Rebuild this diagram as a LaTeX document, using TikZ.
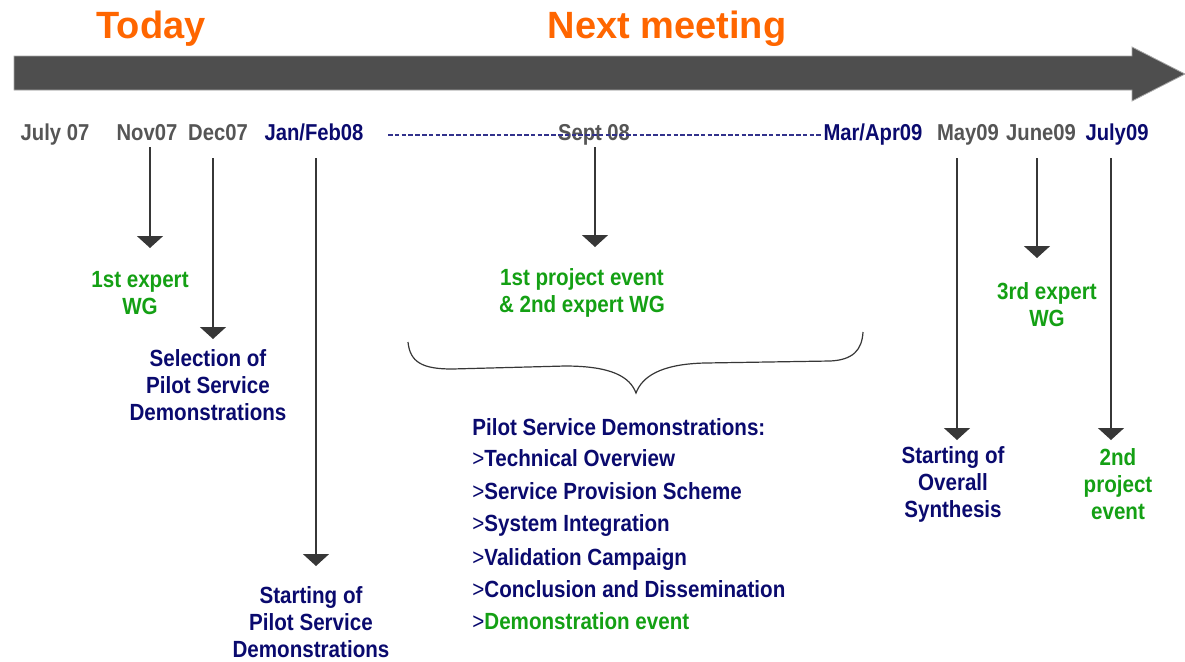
\documentclass[tikz,border=0pt]{standalone}
\usepackage{fontspec}
\setmainfont{Liberation Sans}[FakeStretch=0.88]
\newfontfamily\titlefont{Liberation Sans}
\usetikzlibrary{arrows.meta}
\definecolor{navy}{RGB}{10,10,110}
\definecolor{dashnavy}{RGB}{50,50,140}
\definecolor{greytxt}{RGB}{85,85,85}
\definecolor{greentxt}{RGB}{20,160,20}
\definecolor{orng}{RGB}{255,102,0}
\definecolor{arrowgrey}{RGB}{78,78,78}
\definecolor{linegrey}{RGB}{55,55,55}
\tikzset{
  datelab/.style={anchor=base,inner sep=0pt,font=\fontsize{11.5}{13.5}\selectfont\bfseries},
  lab/.style={align=center,inner sep=0pt,font=\fontsize{11.7}{13.5}\selectfont\bfseries},
  listlab/.style={anchor=base west,inner sep=0pt,font=\fontsize{11.7}{13.5}\selectfont\bfseries,text=navy},
  title/.style={inner sep=0pt,text=orng,font=\titlefont\fontsize{19}{22}\selectfont\bfseries},
  tick/.style={draw=linegrey,line width=0.75pt,-{Triangle[width=13pt,length=6pt]}},
}
\begin{document}
\begin{tikzpicture}[x=0.5pt,y=-0.5pt]
\useasboundingbox (0,0) rectangle (1185,661);
% big arrow
\fill[arrowgrey,draw=black!35,line width=0.4pt] (14,56) -- (1132,56) -- (1132,47) -- (1185,74) -- (1132,101) -- (1132,90) -- (14,90) -- cycle;
% titles
\node[title] (today) at (151,29) {Today};
\node[title] (next) at (667,29) {Next meeting};
% dates
\node[datelab,text=greytxt] (jul07) at (55,140) {July 07};
\node[datelab,text=greytxt] (nov07) at (147,140) {Nov07};
\node[datelab,text=greytxt] (dec07) at (218,140) {Dec07};
\node[datelab,text=navy] (jan08) at (314,140) {Jan/Feb08};
\node[datelab,text=greytxt] (sep08) at (594,140) {Sept 08};
\node[datelab,text=navy] (mar09) at (873,140) {Mar/Apr09};
\node[datelab,text=greytxt] (may09) at (968,140) {May09};
\node[datelab,text=greytxt] (jun09) at (1041,140) {June09};
\node[datelab,text=navy] (jul09) at (1117,140) {July09};
% dashed span
\coordinate (dashs) at (388,135);
\coordinate (dashe) at (822,135);
\draw[dashnavy,line width=0.9pt,dash pattern=on 2.3pt off 1.1pt] (dashs) -- (dashe);
% labels
\node[lab,text=greentxt] (wg1) at (140,293) {1st expert\\WG};
\node[lab,text=navy] (sel) at (208,385) {Selection of\\Pilot Service\\Demonstrations};
\node[lab,text=navy] (stp) at (311,622) {Starting of\\Pilot Service\\Demonstrations};
\node[lab,text=greentxt] (pe1) at (582,293) {1st project event\\\& 2nd expert WG};
\node[lab,text=greentxt] (wg3) at (1047,305) {3rd expert\\WG};
\node[lab,text=navy] (syn) at (953,484) {Starting of\\Overall\\Synthesis};
\node[lab,text=greentxt] (pe2) at (1118,484) {2nd\\project\\event};
% list
\node[listlab] (l0) at (472,435) {Pilot Service Demonstrations:};
\node[listlab] (l1) at (472,466) {{\mdseries\textgreater}Technical Overview};
\node[listlab] (l2) at (472,499) {{\mdseries\textgreater}Service Provision Scheme};
\node[listlab] (l3) at (472,531) {{\mdseries\textgreater}System Integration};
\node[listlab] (l4) at (472,565) {{\mdseries\textgreater}Validation Campaign};
\node[listlab] (l5) at (472,597) {{\mdseries\textgreater}Conclusion and Dissemination};
\node[listlab] (l6) at (472,629) {{\mdseries\textgreater}\textcolor{greentxt}{Demonstration event}};
% arrows
\coordinate (a1s) at (150,147); \coordinate (a1e) at (150,248);
\coordinate (a2s) at (213,158); \coordinate (a2e) at (213,339);
\coordinate (a3s) at (316,158); \coordinate (a3e) at (316,566);
\coordinate (a4s) at (595,147); \coordinate (a4e) at (595,247);
\coordinate (a5s) at (957,158); \coordinate (a5e) at (957,440);
\coordinate (a6s) at (1037,158); \coordinate (a6e) at (1037,258);
\coordinate (a7s) at (1111,158); \coordinate (a7e) at (1111,440);
\draw[tick] (a1s) -- (a1e);
\draw[tick] (a2s) -- (a2e);
\draw[tick] (a3s) -- (a3e);
\draw[tick] (a4s) -- (a4e);
\draw[tick] (a5s) -- (a5e);
\draw[tick] (a6s) -- (a6e);
\draw[tick] (a7s) -- (a7e);
% brace
\draw[linegrey,line width=0.6pt] (408,342) .. controls (410,362) and (422,369) .. (452,369)
  -- (565,366) .. controls (612,366) and (630,377) .. (636,393)
  .. controls (642,377) and (660,364) .. (705,363)
  -- (830,361) .. controls (853,360) and (862,350) .. (863,332);
\end{tikzpicture}
\end{document}
